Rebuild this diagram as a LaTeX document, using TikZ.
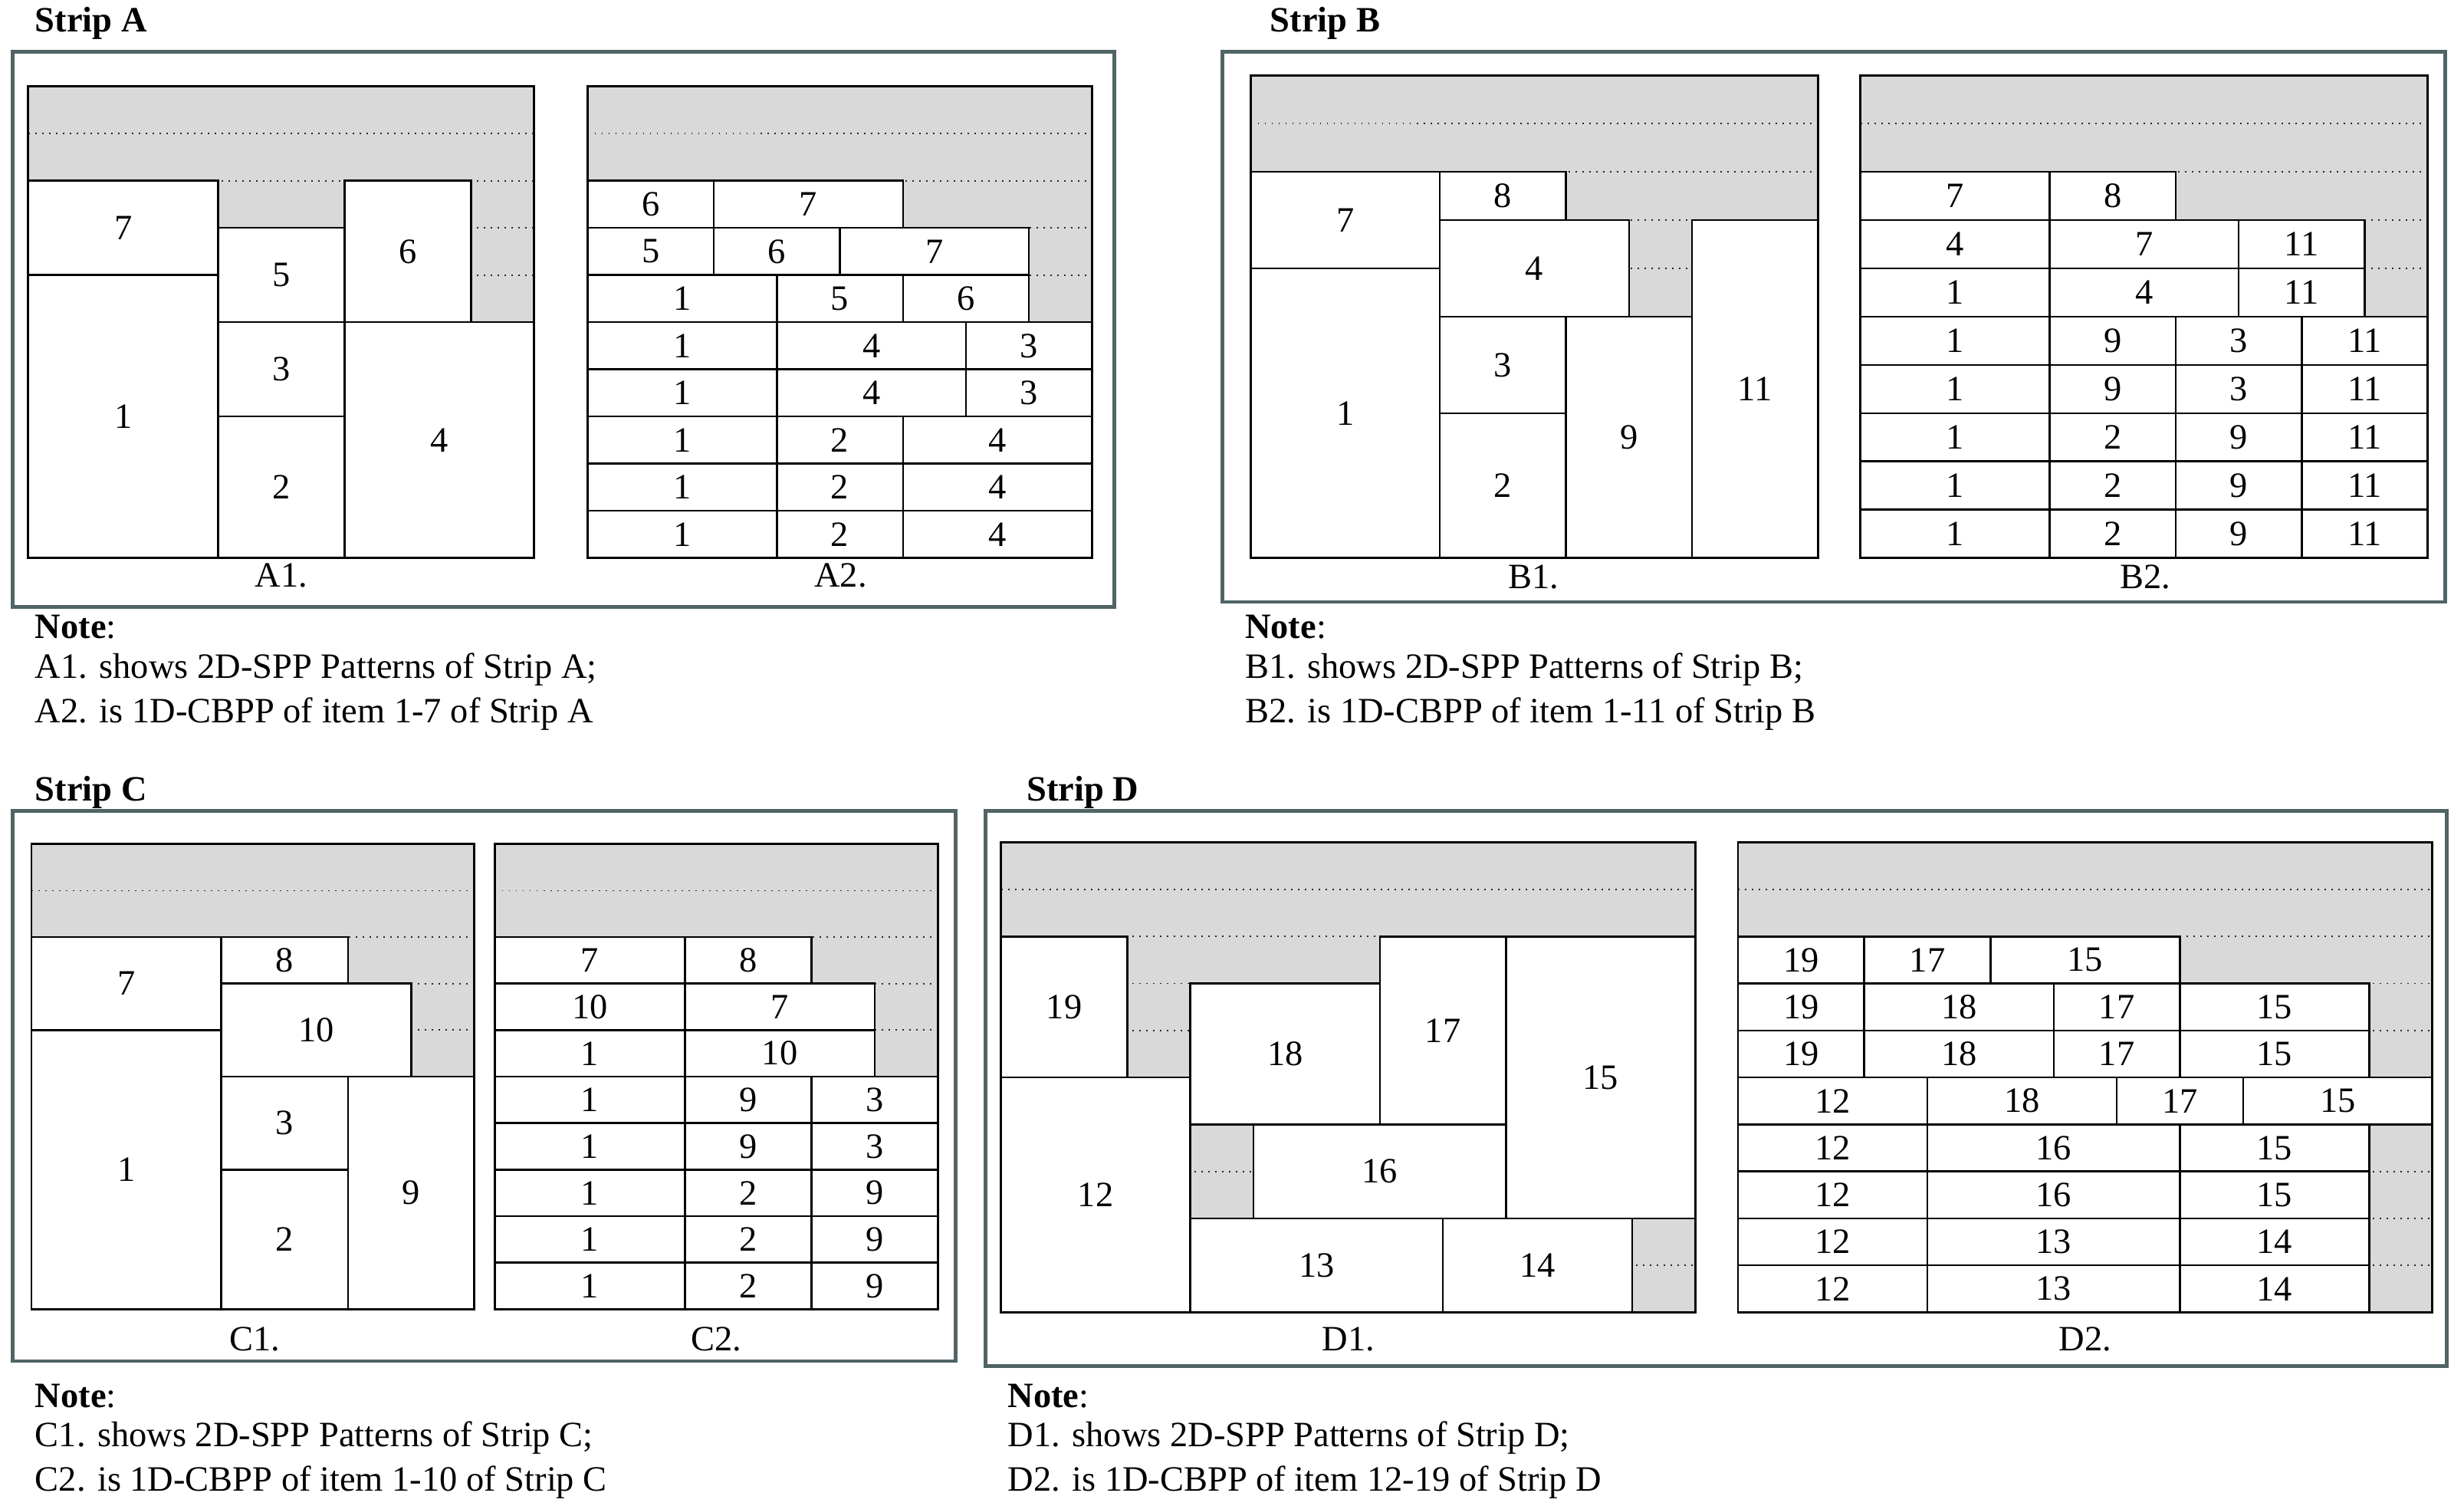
\documentclass[tikz,border=0pt]{standalone}
\usepackage{fontspec}
\setmainfont{Liberation Serif}
\definecolor{frm}{RGB}{80,100,100}
\definecolor{gr}{RGB}{217,217,217}
\tikzset{cell/.style={draw,fill=white,line width=0.7pt},
 frame/.style={draw=frm,line width=1.3pt},
 txt/.style={anchor=west,inner sep=0pt,font=\fontsize{12.9}{15}\selectfont},
 dots/.style={dotted,line width=0.5pt,black!85}}
\newcommand\bg[1]{\fill[gr] (0,0) rectangle (#1,10);
 \foreach \r in {1,...,9} \draw[dots] (0,\r)--(#1,\r);}
\newcommand\cel[5]{\draw[cell] (#1,#2) rectangle node{#5} (#3,#4);}
\newcommand\bd[1]{\draw[line width=0.8pt] (0,0) rectangle (#1,10);}
\begin{document}
\begin{tikzpicture}[x=0.02cm,y=-0.02cm,font=\fontsize{12.9}{15}\selectfont]
\useasboundingbox (0,0) rectangle (1568,958);
% frames
\draw[frame] (8,33) rectangle (709,386);
\draw[frame] (778,33) rectangle (1556,383);
\draw[frame] (8,516) rectangle (608,866);
\draw[frame] (627,516) rectangle (1557,869);
\node[txt] (ta) at (22,15) {\textbf{Strip A}};
\node[txt] (tb) at (808,15) {\textbf{Strip B}};
\node[txt] (tc) at (22,504) {\textbf{Strip C}};
\node[txt] (td) at (653,504) {\textbf{Strip D}};
% A1
\begin{scope}[shift={(18,55)},x=0.805cm,y=-0.6cm]
\bg{8}
\cel{0}{2}{3}{4}{7}\cel{0}{4}{3}{10}{1}\cel{3}{3}{5}{5}{5}\cel{3}{5}{5}{7}{3}\cel{3}{7}{5}{10}{2}
\cel{5}{2}{7}{5}{6}\cel{5}{5}{8}{10}{4}
\bd{8}
\end{scope}
% A2
\begin{scope}[shift={(374,55)},x=0.8025cm,y=-0.6cm]
\bg{8}
\cel{0}{2}{2}{3}{6}\cel{2}{2}{5}{3}{7}
\cel{0}{3}{2}{4}{5}\cel{2}{3}{4}{4}{6}\cel{4}{3}{7}{4}{7}
\cel{0}{4}{3}{5}{1}\cel{3}{4}{5}{5}{5}\cel{5}{4}{7}{5}{6}
\foreach \r in {5,6}{\cel{0}{\r}{3}{\r+1}{1}\cel{3}{\r}{6}{\r+1}{4}\cel{6}{\r}{8}{\r+1}{3}}
\foreach \r in {7,8,9}{\cel{0}{\r}{3}{\r+1}{1}\cel{3}{\r}{5}{\r+1}{2}\cel{5}{\r}{8}{\r+1}{4}}
\bd{8}
\end{scope}
\node (a1) at (179,366) {A1.};
\node (a2) at (535,366) {A2.};
% B1
\begin{scope}[shift={(796,48)},x=0.8022cm,y=-0.614cm]
\bg{9}
\cel{0}{2}{3}{4}{7}\cel{3}{2}{5}{3}{8}\cel{3}{3}{6}{5}{4}\cel{3}{5}{5}{7}{3}\cel{3}{7}{5}{10}{2}
\cel{0}{4}{3}{10}{1}\cel{5}{5}{7}{10}{9}\cel{7}{3}{9}{10}{11}
\bd{9}
\end{scope}
% B2
\begin{scope}[shift={(1184,48)},x=0.8022cm,y=-0.614cm]
\bg{9}
\cel{0}{2}{3}{3}{7}\cel{3}{2}{5}{3}{8}
\cel{0}{3}{3}{4}{4}\cel{3}{3}{6}{4}{7}\cel{6}{3}{8}{4}{11}
\cel{0}{4}{3}{5}{1}\cel{3}{4}{6}{5}{4}\cel{6}{4}{8}{5}{11}
\foreach \r in {5,6}{\cel{0}{\r}{3}{\r+1}{1}\cel{3}{\r}{5}{\r+1}{9}\cel{5}{\r}{7}{\r+1}{3}\cel{7}{\r}{9}{\r+1}{11}}
\foreach \r in {7,8,9}{\cel{0}{\r}{3}{\r+1}{1}\cel{3}{\r}{5}{\r+1}{2}\cel{5}{\r}{7}{\r+1}{9}\cel{7}{\r}{9}{\r+1}{11}}
\bd{9}
\end{scope}
\node (b1) at (976,367) {B1.};
\node (b2) at (1365,367) {B2.};
% C1
\begin{scope}[shift={(20,537)},x=0.8057cm,y=-0.592cm]
\bg{7}
\cel{0}{2}{3}{4}{7}\cel{3}{2}{5}{3}{8}\cel{3}{3}{6}{5}{10}\cel{3}{5}{5}{7}{3}\cel{3}{7}{5}{10}{2}
\cel{0}{4}{3}{10}{1}\cel{5}{5}{7}{10}{9}
\bd{7}
\end{scope}
% C2
\begin{scope}[shift={(315,537)},x=0.8057cm,y=-0.592cm]
\bg{7}
\cel{0}{2}{3}{3}{7}\cel{3}{2}{5}{3}{8}
\cel{0}{3}{3}{4}{10}\cel{3}{3}{6}{4}{7}
\cel{0}{4}{3}{5}{1}\cel{3}{4}{6}{5}{10}
\foreach \r in {5,6}{\cel{0}{\r}{3}{\r+1}{1}\cel{3}{\r}{5}{\r+1}{9}\cel{5}{\r}{7}{\r+1}{3}}
\foreach \r in {7,8,9}{\cel{0}{\r}{3}{\r+1}{1}\cel{3}{\r}{5}{\r+1}{2}\cel{5}{\r}{7}{\r+1}{9}}
\bd{7}
\end{scope}
\node (c1) at (162,852) {C1.};
\node (c2) at (456,852) {C2.};
% D1
\begin{scope}[shift={(637,536)},x=0.8036cm,y=-0.598cm]
\bg{11}
\cel{0}{2}{2}{5}{19}\cel{0}{5}{3}{10}{12}\cel{3}{3}{6}{6}{18}\cel{6}{2}{8}{6}{17}\cel{8}{2}{11}{8}{15}
\cel{4}{6}{8}{8}{16}\cel{3}{8}{7}{10}{13}\cel{7}{8}{10}{10}{14}
\bd{11}
\end{scope}
% D2
\begin{scope}[shift={(1106,536)},x=0.8036cm,y=-0.598cm]
\bg{11}
\cel{0}{2}{2}{3}{19}\cel{2}{2}{4}{3}{17}\cel{4}{2}{7}{3}{15}
\foreach \r in {3,4}{\cel{0}{\r}{2}{\r+1}{19}\cel{2}{\r}{5}{\r+1}{18}\cel{5}{\r}{7}{\r+1}{17}\cel{7}{\r}{10}{\r+1}{15}}
\cel{0}{5}{3}{6}{12}\cel{3}{5}{6}{6}{18}\cel{6}{5}{8}{6}{17}\cel{8}{5}{11}{6}{15}
\foreach \r in {6,7}{\cel{0}{\r}{3}{\r+1}{12}\cel{3}{\r}{7}{\r+1}{16}\cel{7}{\r}{10}{\r+1}{15}}
\foreach \r in {8,9}{\cel{0}{\r}{3}{\r+1}{12}\cel{3}{\r}{7}{\r+1}{13}\cel{7}{\r}{10}{\r+1}{14}}
\bd{11}
\end{scope}
\node (d1) at (858,852) {D1.};
\node (d2) at (1327,852) {D2.};
% notes
\node[txt] (na0) at (22,399) {\textbf{Note}:};
\node[txt] (na1) at (22,426) {A1. shows 2D-SPP Patterns of Strip A;};
\node[txt] (na2) at (22,454) {A2. is 1D-CBPP of item 1-7 of Strip A};
\node[txt] (nb0) at (792,399) {\textbf{Note}:};
\node[txt] (nb1) at (792,426) {B1. shows 2D-SPP Patterns of Strip B;};
\node[txt] (nb2) at (792,454) {B2. is 1D-CBPP of item 1-11 of Strip B};
\node[txt] (nc0) at (22,888) {\textbf{Note}:};
\node[txt] (nc1) at (22,915) {C1. shows 2D-SPP Patterns of Strip C;};
\node[txt] (nc2) at (22,943) {C2. is 1D-CBPP of item 1-10 of Strip C};
\node[txt] (nd0) at (641,888) {\textbf{Note}:};
\node[txt] (nd1) at (641,915) {D1. shows 2D-SPP Patterns of Strip D;};
\node[txt] (nd2) at (641,943) {D2. is 1D-CBPP of item 12-19 of Strip D};
\end{tikzpicture}
\end{document}
